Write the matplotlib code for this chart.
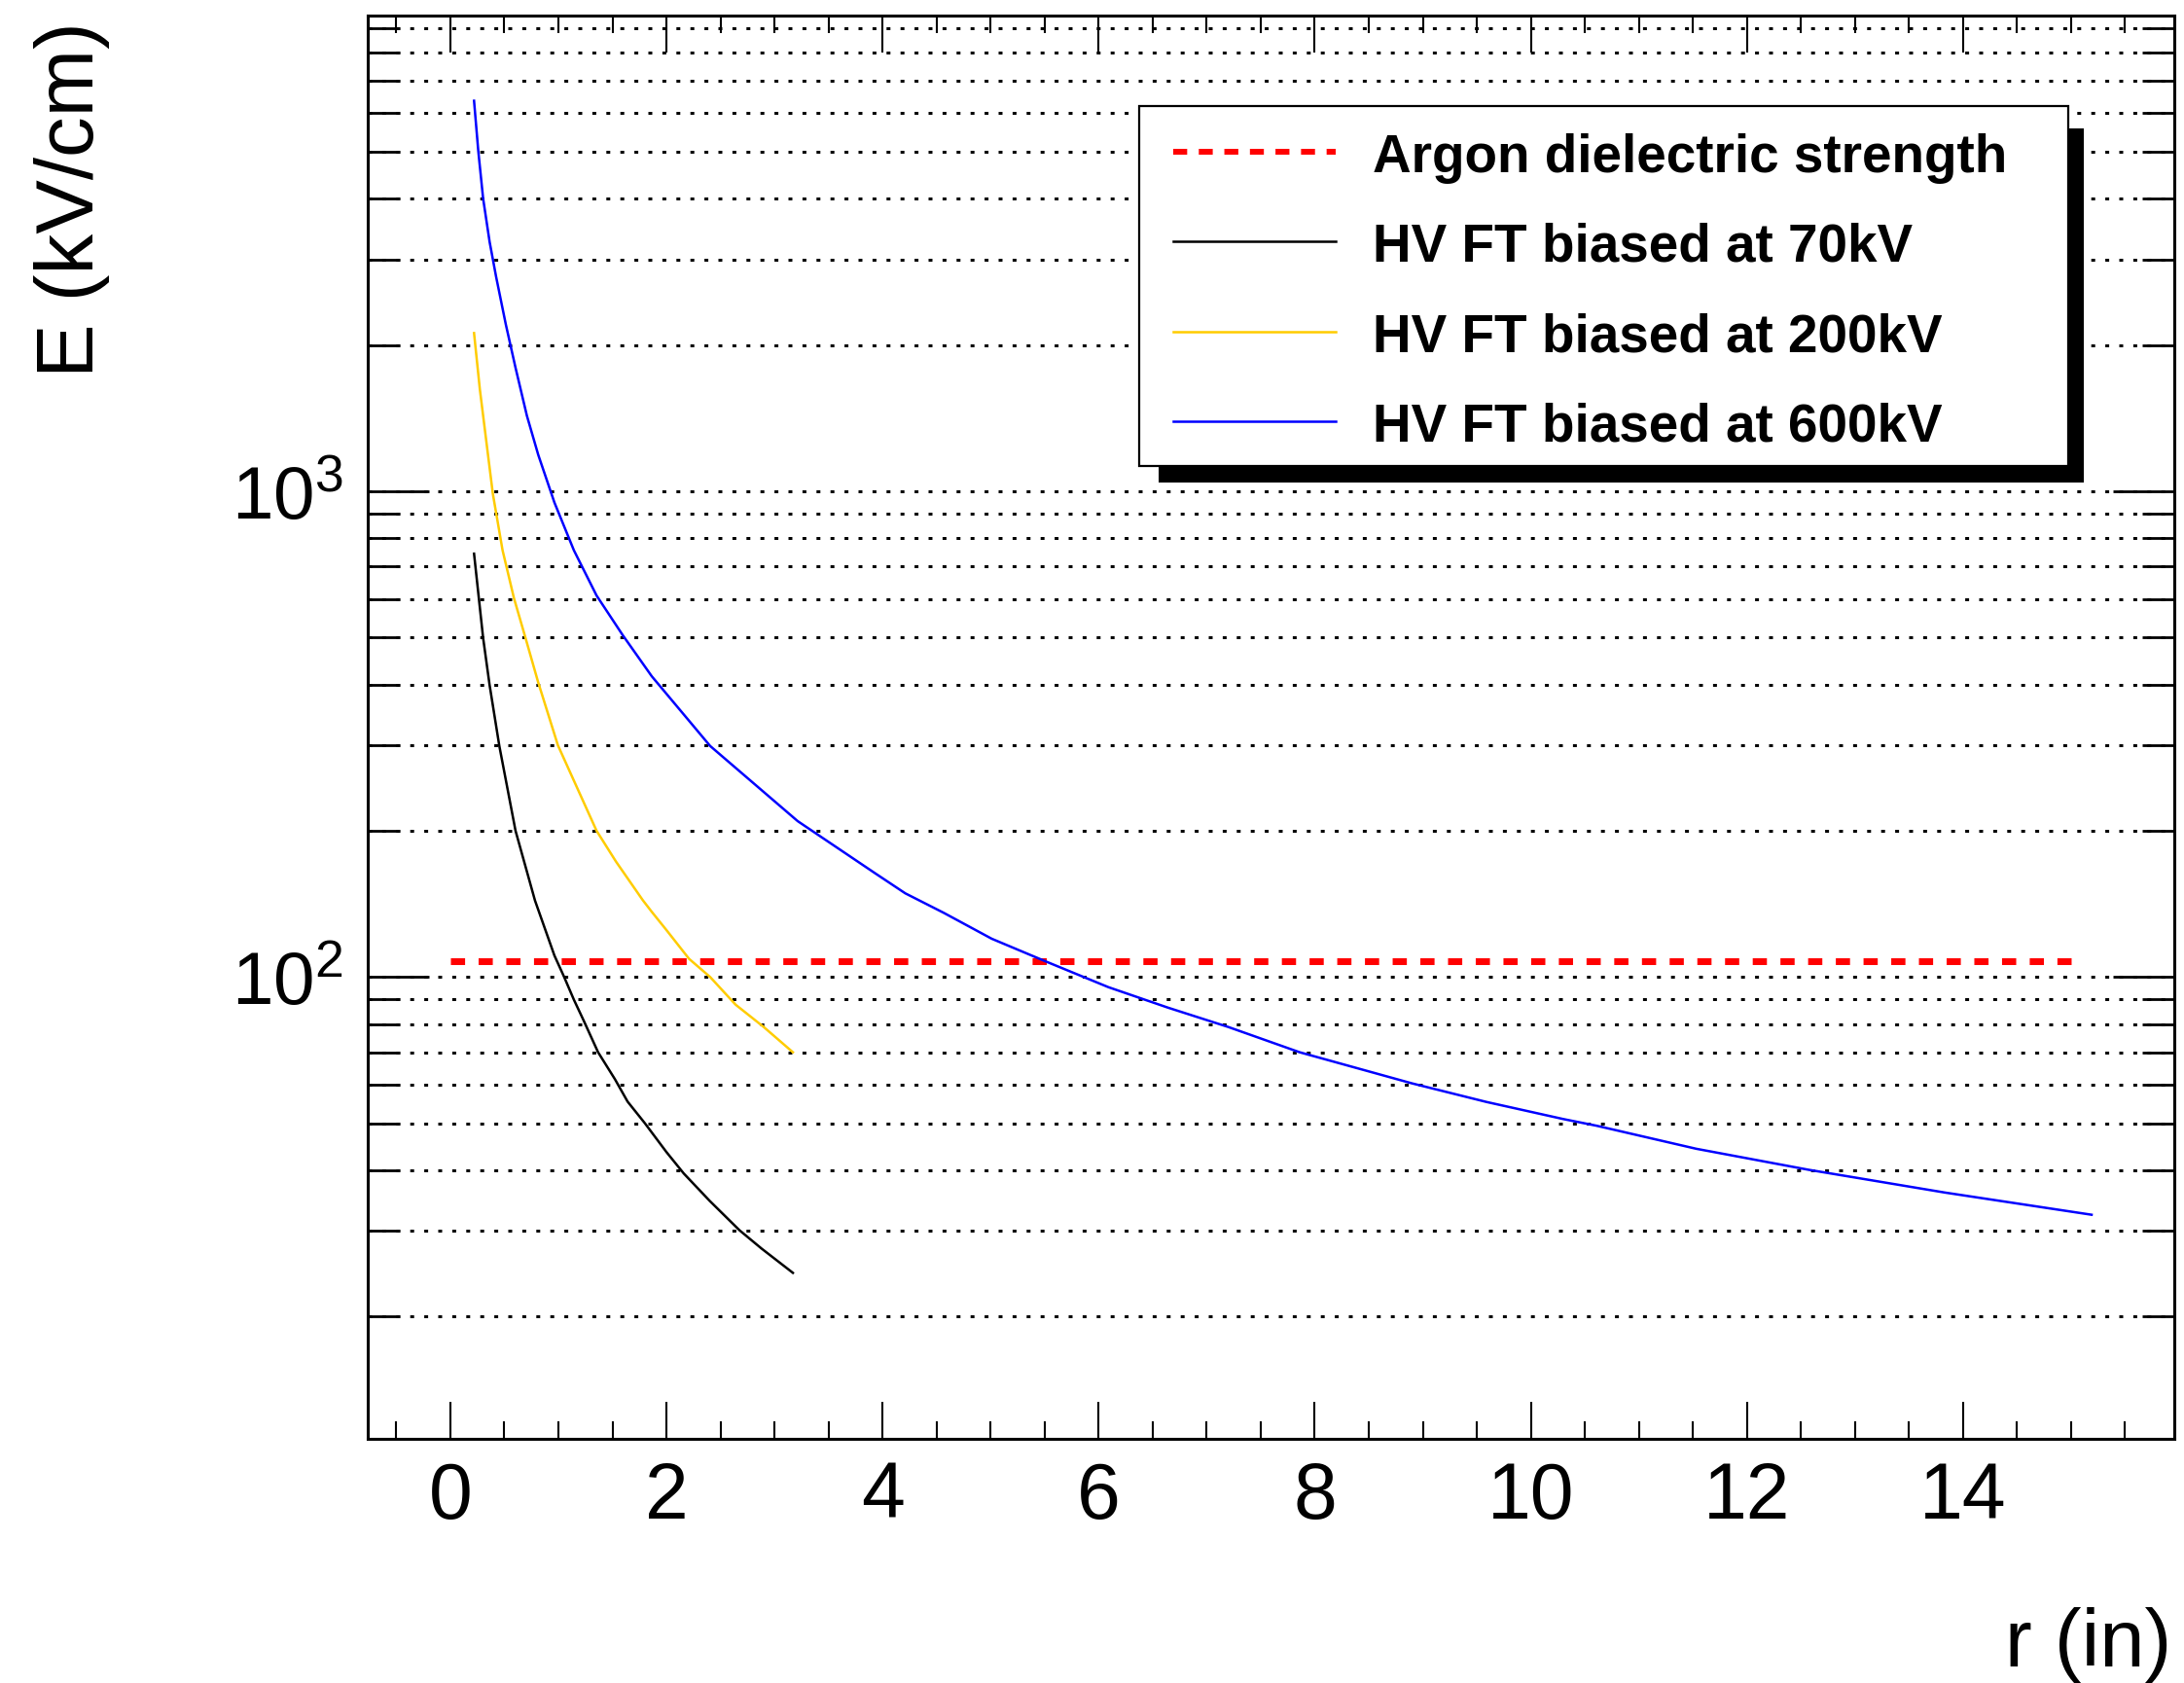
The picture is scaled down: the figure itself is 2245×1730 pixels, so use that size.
import matplotlib
matplotlib.use("Agg")
import matplotlib.pyplot as plt
from matplotlib.ticker import MultipleLocator, LogLocator, NullFormatter, FixedLocator, FixedFormatter
from matplotlib.patches import Rectangle
from matplotlib.lines import Line2D

plt.rcParams['font.family'] = ['Liberation Sans', 'DejaVu Sans']
plt.rcParams['mathtext.fontset'] = 'custom'
plt.rcParams['mathtext.rm'] = 'Liberation Sans'
plt.rcParams['mathtext.it'] = 'Liberation Sans:italic'
plt.rcParams['mathtext.bf'] = 'Liberation Sans:bold'

# ---------------- data ----------------
r_70 = [0.219, 0.303, 0.363, 0.453, 0.603, 0.783, 0.963, 1.053,
        1.143, 1.233, 1.367, 1.523, 1.64, 1.80, 2.0, 2.16, 2.40, 2.676, 2.88, 3.17]
E_70 = [744, 499, 399, 299, 200, 143.7, 110.7, 100,
        89.8, 81.4, 70, 61.6, 55.4, 50, 43.6, 39.4, 34.6, 30.1, 27.6, 24.6]

r_200 = [0.219, 0.273, 0.333, 0.393, 0.483, 0.588, 0.693, 0.813, 0.995, 1.353,
         1.533, 1.782, 1.864, 2.0, 2.209, 2.404, 2.64, 2.90, 3.17]
E_200 = [2117, 1620, 1265, 988, 756, 603, 501, 404, 300, 200,
         172.8, 143.8, 136.2, 124.9, 109, 100, 87.7, 78.9, 70]

r_600 = [0.219, 0.258, 0.303, 0.363, 0.423, 0.513, 0.603, 0.708, 0.813, 0.963, 1.143,
         1.353, 1.594, 1.864, 2.194, 2.404, 3.214, 3.935, 4.21, 4.565, 5.01,
         5.5, 6.09, 6.64, 7.20, 7.86, 8.90, 9.59, 10.3, 10.61, 11.53, 12.57, 13.83, 15.19]
E_600 = [6368, 5025, 4006, 3263, 2766, 2206, 1796, 1431, 1189, 948, 756,
         610, 506, 416, 340, 299, 209.4, 163.3, 148.7, 135.6, 119.9,
         107.9, 95.3, 86.5, 78.9, 70, 60.4, 55.3, 51, 49.4, 44.3, 40.1, 36.0, 32.4]

argon_r = [0, 15]
argon_E = [108, 108]

legend_labels = ["Argon dielectric strength", "HV FT biased at 70kV",
                 "HV FT biased at 200kV", "HV FT biased at 600kV"]
x_label = "r (in)"
y_label = "E (kV/cm)"
y_tick_values = [10, 100, 1000, 10000]
y_tick_labels = [r'$\mathregular{10^{1}}$', r'$\mathregular{10^{2}}$',
                 r'$\mathregular{10^{3}}$', r'$\mathregular{10^{4}}$']

# ---------------- figure ----------------
W, H = 2245, 1731
fig = plt.figure(figsize=(W / 100, H / 100), dpi=100)

def fx(px):
    return px / W

def fy(py):
    return 1 - py / H

ax_l, ax_r, ax_t, ax_b = 378, 2235, 17, 1480
ax = fig.add_axes([fx(ax_l), fy(ax_b), (ax_r - ax_l) / W, (ax_b - ax_t) / H])

ax.set_yscale('log')
ax.set_xlim(-0.765, 15.955)
ax.set_ylim(11.2, 9537)

c_black = '#000000'
c_yellow = '#ffcc00'
c_blue = '#0000ff'
c_red = '#ff0000'

lw_curve = 1.8
ax.plot(argon_r, argon_E, color=c_red, lw=5.0, linestyle=(0, (2.1, 2.0)),
        dash_capstyle='butt', zorder=3)
ax.plot(r_70, E_70, color=c_black, lw=lw_curve, zorder=4)
ax.plot(r_200, E_200, color=c_yellow, lw=lw_curve, zorder=4)
ax.plot(r_600, E_600, color=c_blue, lw=lw_curve, zorder=4)

# y axis ticks + horizontal grid at every major and minor tick
ax.yaxis.set_major_locator(FixedLocator(y_tick_values))
ax.yaxis.set_major_formatter(FixedFormatter(y_tick_labels))
ax.yaxis.set_minor_locator(LogLocator(base=10, subs=[2, 3, 4, 5, 6, 7, 8, 9], numticks=20))
ax.yaxis.set_minor_formatter(NullFormatter())
ax.grid(True, axis='y', which='both', color='black', lw=2.16,
        linestyle=(0, (1.33, 3.47)), dash_capstyle='butt')
ax.set_axisbelow(True)

ax.xaxis.set_major_locator(MultipleLocator(2))
ax.xaxis.set_minor_locator(MultipleLocator(0.5))

for s in ax.spines.values():
    s.set_linewidth(2.2)
    s.set_zorder(6)

ax.tick_params(axis='x', which='major', direction='in', length=27.4, width=1.5,
               top=True, bottom=True, labelsize=58, pad=15.5)
ax.tick_params(axis='x', which='minor', direction='in', length=13, width=1.5,
               top=True, bottom=True)
ax.tick_params(axis='y', which='major', direction='in', length=45.4, width=2.0,
               left=True, right=True, labelsize=55, pad=18)
ax.tick_params(axis='y', which='minor', direction='in', length=23.8, width=2.0,
               left=True, right=True)

# axis titles
fig.text(fx(2232), fy(1713), x_label, ha='right', va='baseline', fontsize=60)
fig.text(fx(113), fy(22), y_label, ha='right', va='top', rotation=90, fontsize=60)

# ---------------- legend (ROOT-style box with shadow) ----------------
bx0, by0, bx1, by1 = 1171, 110, 2126, 480
shadow = Rectangle((fx(bx0 + 20), fy(by1 + 17)), (bx1 - bx0 - 4) / W, (by1 - by0 - 6) / H,
                   transform=fig.transFigure, facecolor='black', edgecolor='none', zorder=20)
box = Rectangle((fx(bx0), fy(by1)), (bx1 - bx0) / W, (by1 - by0) / H,
                transform=fig.transFigure, facecolor='white', edgecolor='black',
                lw=1.6, zorder=21)
fig.add_artist(shadow)
fig.add_artist(box)

rows = [157, 249, 342, 434]
styles = [dict(color=c_red, lw=4.3, linestyle=(0, (2.4, 2.0)), dash_capstyle='butt'),
          dict(color=c_black, lw=1.8),
          dict(color=c_yellow, lw=1.8),
          dict(color=c_blue, lw=1.8)]
for yrow, lab, st in zip(rows, legend_labels, styles):
    ln = Line2D([fx(1206), fx(1373)], [fy(yrow), fy(yrow)], transform=fig.transFigure,
                zorder=22, **st)
    fig.add_artist(ln)
    fig.text(fx(1411), fy(yrow + 20), lab, ha='left', va='baseline', fontsize=39.5,
             fontweight='bold', zorder=23)

fig.savefig('out.png', dpi=100)
